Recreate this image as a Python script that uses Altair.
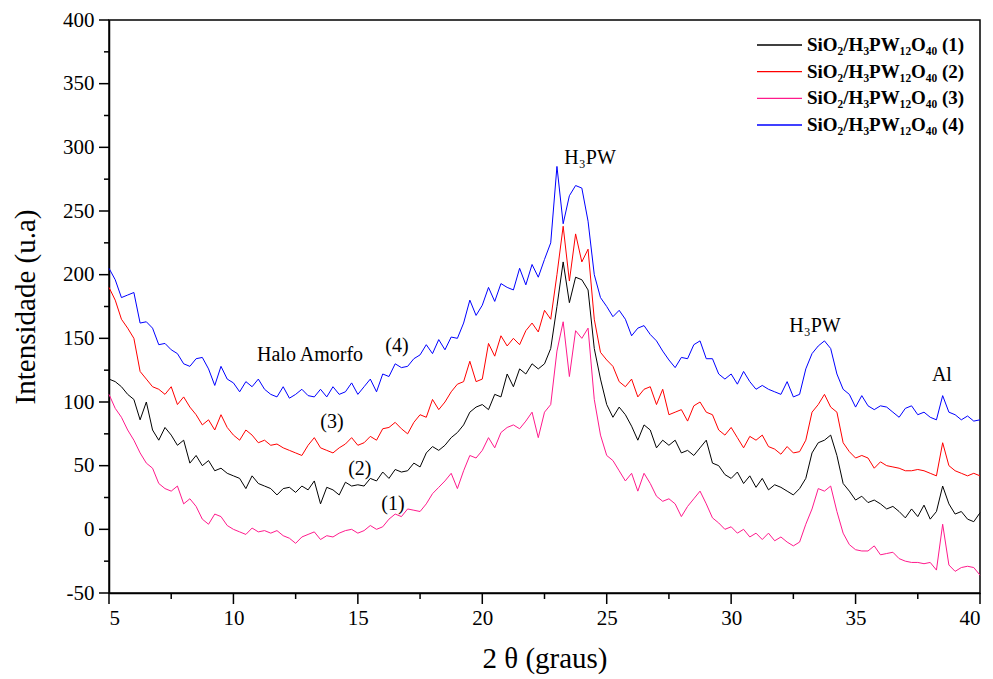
import altair as alt
import pandas as pd

two_theta = [5 + 0.25 * i for i in range(141)]

s1_black = [118,116,112,106,102,86,100,78,70,80,74,66,70,52,58,50,54,46,48,44,
            42,40,32,42,36,34,32,27,32,33,29,34,31,38,20,33,31,27,37,34,
            35,34,40,38,45,40,47,45,46,52,49,60,65,62,66,72,76,82,92,96,
            98,94,106,104,122,112,126,122,130,126,130,142,175,210,178,198,196,188,142,118,
            98,88,96,90,81,70,82,78,64,70,66,70,60,62,58,64,70,52,50,43,
            40,45,36,42,33,40,31,35,33,30,27,32,40,60,68,70,74,58,36,30,
            23,26,21,23,20,16,18,14,9,16,10,19,8,14,34,20,12,14,8,6,13]

s2_red = [190,180,165,158,150,124,118,112,110,106,112,98,104,96,90,82,86,78,90,80,
          74,70,78,74,68,70,66,67,64,62,60,58,66,72,64,62,60,64,67,72,
          66,68,73,70,79,80,84,79,75,84,90,88,102,94,100,108,114,116,132,116,
          118,146,136,152,144,150,145,156,162,155,172,165,200,238,195,232,210,220,165,139,
          133,128,116,112,118,104,110,112,98,110,90,92,94,85,97,100,92,90,78,74,
          80,72,64,73,70,74,65,63,59,65,60,61,70,92,98,106,96,92,68,61,
          56,58,56,48,53,50,49,48,46,46,47,46,44,42,68,50,46,44,42,44,42]

s3_pink = [106,95,88,78,70,60,52,48,36,32,30,34,20,24,18,8,4,12,10,3,
           0,-2,-4,1,-2,-1,-3,-1,-5,-7,-11,-6,-4,-2,-8,-5,-6,-3,-1,0,
           -3,-1,3,0,2,8,12,10,16,15,14,20,28,33,38,44,32,46,58,56,
           62,72,64,76,80,82,79,85,92,72,92,98,140,163,120,156,150,158,102,74,
           58,54,46,38,44,30,44,36,26,22,24,20,10,18,24,30,20,9,5,0,
           2,-3,0,-6,-3,-8,-3,-9,-6,-10,-13,-10,4,16,32,30,34,14,-3,-12,
           -16,-17,-17,-13,-20,-19,-18,-23,-25,-26,-26,-27,-26,-32,4,-28,-33,-30,-29,-30,-36]

s4_blue = [205,196,182,184,186,162,163,158,145,146,141,138,130,128,134,135,126,113,128,118,
           115,108,116,112,118,110,106,104,112,103,106,110,105,104,110,104,112,106,108,115,
           106,112,118,108,122,120,130,127,128,134,137,145,138,149,141,151,150,162,180,168,
           176,190,179,193,190,188,205,192,208,198,212,225,285,240,262,270,268,242,200,182,
           175,167,172,165,152,158,160,153,148,140,133,127,135,134,145,148,134,134,122,118,
           122,114,124,116,110,113,110,108,106,116,104,106,126,138,144,148,142,122,110,106,
           96,105,97,94,97,96,92,88,95,97,90,92,88,86,105,92,90,86,89,85,86]

series_names = ["SiO₂/H₃PW₁₂O₄₀ (1)", "SiO₂/H₃PW₁₂O₄₀ (2)",
                "SiO₂/H₃PW₁₂O₄₀ (3)", "SiO₂/H₃PW₁₂O₄₀ (4)"]
series_colors = ["#000000", "#ff0000", "#ff1a8c", "#0000ff"]
series_values = [s1_black, s2_red, s3_pink, s4_blue]

ann_text = ["Halo Amorfo", "(4)", "(3)", "(2)", "(1)", "H₃PW", "H₃PW", "Al"]
ann_x = [13.08, 16.57, 13.96, 15.08, 16.41, 24.33, 33.37, 38.47]
ann_y = [137, 144, 84, 47, 20, 292, 160, 121]

x_major = [5, 10, 15, 20, 25, 30, 35, 40]
x_minor = [7.5, 12.5, 17.5, 22.5, 27.5, 32.5, 37.5]
y_major = [-50, 0, 50, 100, 150, 200, 250, 300, 350, 400]
y_minor = [-25, 25, 75, 125, 175, 225, 275, 325, 375]

FONT = "Liberation Serif"
PLOT_W, PLOT_H = 871, 573

rows = []
for name, vals in zip(series_names, series_values):
    for x, y in zip(two_theta, vals):
        rows.append({"theta": x, "I": y, "serie": name})
df = pd.DataFrame(rows)

xscale = alt.Scale(domain=[5, 40], nice=False, zero=False)
yscale = alt.Scale(domain=[-50, 400], nice=False, zero=False)

x_axis = alt.Axis(values=x_major, title="2 θ (graus)", orient="bottom", ticks=False, tickSize=0,
                  labelExpr="'' + datum.value", labelPadding=14, titlePadding=16)
y_axis = alt.Axis(values=y_major, title="Intensidade (u.a)", orient="left", ticks=False, tickSize=0,
                  labelExpr="'' + datum.value", labelPadding=15, titlePadding=22)

lines = alt.Chart(df).mark_line(strokeWidth=1, interpolate="linear").encode(
    x=alt.X("theta:Q", scale=xscale, axis=x_axis),
    y=alt.Y("I:Q", scale=yscale, axis=y_axis),
    color=alt.Color("serie:N", scale=alt.Scale(domain=series_names, range=series_colors), legend=None),
    detail="serie:N",
)

ann_df = pd.DataFrame({"t": ann_text, "x": ann_x, "y": ann_y})
ann = alt.Chart(ann_df).mark_text(font=FONT, fontSize=20, color="black", align="center", baseline="middle").encode(
    x=alt.X("x:Q", scale=xscale, axis=x_axis),
    y=alt.Y("y:Q", scale=yscale, axis=y_axis),
    text="t:N")

def xticks(vals, length):
    return alt.Chart(pd.DataFrame({"v": vals})).mark_rule(color="black", strokeWidth=1.5).encode(
        x=alt.X("v:Q", scale=xscale, axis=x_axis),
        y=alt.value(PLOT_H), y2=alt.value(PLOT_H + length))

def yticks(vals, length):
    return alt.Chart(pd.DataFrame({"v": vals})).mark_rule(color="black", strokeWidth=1.5).encode(
        y=alt.Y("v:Q", scale=yscale, axis=y_axis),
        x=alt.value(0), x2=alt.value(-length))

layers = [lines, ann, xticks(x_major, 11), xticks(x_minor, 6), yticks(y_major, 10), yticks(y_minor, 5)]

legend_y = [25, 51.7, 78.3, 105]
for name, col, ly in zip(series_names, series_colors, legend_y):
    one = pd.DataFrame({"t": [name]})
    layers.append(alt.Chart(one).mark_rule(color=col, strokeWidth=1.3).encode(
        x=alt.value(648), x2=alt.value(693), y=alt.value(ly)))
    layers.append(alt.Chart(one).mark_text(font=FONT, fontSize=19, fontWeight="bold", color="black",
                                           align="left", baseline="middle").encode(
        x=alt.value(698), y=alt.value(ly), text="t:N"))

chart = alt.layer(*layers).properties(
    width=PLOT_W, height=PLOT_H,
    autosize=alt.AutoSizeParams(type="none"),
    padding={"left": 109, "top": 20, "right": 13, "bottom": 86},
    background="white",
).configure_view(stroke="black", strokeWidth=1.5).configure_axis(
    labelFont=FONT, labelFontSize=21, labelColor="black",
    titleFont=FONT, titleFontSize=29, titleFontWeight="normal", titleColor="black",
    domainColor="black", domainWidth=1.5,
    grid=False,
)

chart.save("out.html", embed_options={"renderer": "svg", "actions": False})
